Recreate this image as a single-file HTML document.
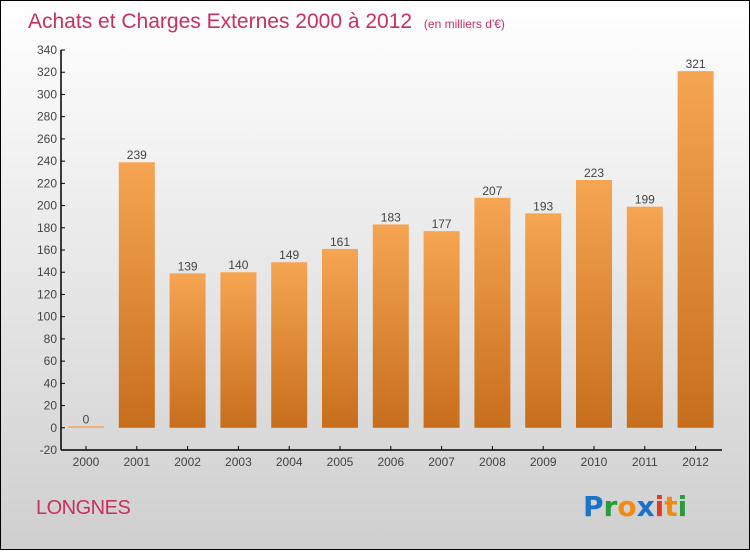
<!DOCTYPE html>
<html><head><meta charset="utf-8"><style>
html,body{margin:0;padding:0}
body{width:750px;height:550px;overflow:hidden;font-family:"Liberation Sans","DejaVu Sans",sans-serif}
</style></head><body>
<svg width="750" height="550" xmlns="http://www.w3.org/2000/svg">
<defs>
<linearGradient id="bg" x1="0" y1="0" x2="0" y2="1"><stop offset="0" stop-color="#ffffff"/><stop offset="1" stop-color="#cfcfcf"/></linearGradient>
<linearGradient id="bar" x1="0" y1="0" x2="0" y2="1"><stop offset="0" stop-color="#f6a552"/><stop offset="1" stop-color="#c76e1c"/></linearGradient>
</defs>
<rect x="0.5" y="0.5" width="749" height="549" fill="url(#bg)" stroke="#000"/>
<text x="28" y="28" font-size="21" fill="#c8305e">Achats et Charges Externes 2000 à 2012 <tspan font-size="12" dx="6">(en milliers d'€)</tspan></text>
<g id="axes"></g>
<g id="bars"></g>
<text x="36" y="514" font-size="20" fill="#c8305e" letter-spacing="-0.5">LONGNES</text>
<g font-size="28" font-weight="bold" font-family="'DejaVu Sans',sans-serif">
<text x="583" y="516"><tspan fill="#1a73c8">P</tspan><tspan fill="#2a9a3a">r</tspan><tspan fill="#f08a10">o</tspan><tspan fill="#1a73c8">x</tspan><tspan fill="#e03a20">i</tspan><tspan fill="#f08a10">t</tspan><tspan fill="#2a9a3a">i</tspan></text>
</g>
</svg>
<script>
const years=["2000","2001","2002","2003","2004","2005","2006","2007","2008","2009","2010","2011","2012"];
const values=[0,239,139,140,149,161,183,177,207,193,223,199,321];
const yTicks=[-20,0,20,40,60,80,100,120,140,160,180,200,220,240,260,280,300,320,340];
const NS="http://www.w3.org/2000/svg";
const y=v=>427.8-(v)*400/360;
const x=i=>86+i*50.8;
function mk(t,a,p){const e=document.createElementNS(NS,t);for(const k in a)e.setAttribute(k,a[k]);p.appendChild(e);return e;}
const ax=document.getElementById('axes'),bg=document.getElementById('bars');
let l=mk('line',{x1:61,y1:50,x2:61,y2:450,stroke:'#000','stroke-width':1.5},ax);


l=mk('line',{x1:61,y1:450,x2:722,y2:450,stroke:'#000','stroke-width':1.5},ax);


yTicks.forEach(v=>{
 const t=mk('line',{x1:61,y1:y(v),x2:65,y2:y(v),stroke:'#000'},ax);
 
 
 const tx=mk('text',{x:57,y:y(v)+4,'font-size':12,fill:'#444','text-anchor':'end'},ax);
 tx.textContent=v;
 
 
});
years.forEach((yr,i)=>{
 const t=mk('line',{x1:x(i),y1:450,x2:x(i),y2:446,stroke:'#000'},ax);
 
 
 const tx=mk('text',{x:x(i),y:466,'font-size':12,fill:'#444','text-anchor':'middle'},ax);
 tx.textContent=yr;
 
 
 const v=values[i];
 const top=Math.min(y(v),y(0)-1.5),h=Math.max(Math.abs(y(0)-y(v)),1.5);
 const r=mk('rect',{x:x(i)-18,y:top,width:36,height:h,fill:v===0?'#f6a552':'url(#bar)'},bg);
 
 
 const lb=mk('text',{x:x(i),y:top-3,'font-size':12,fill:'#444','text-anchor':'middle'},bg);
 lb.textContent=v;
 
 
});
</script>
</body></html>
